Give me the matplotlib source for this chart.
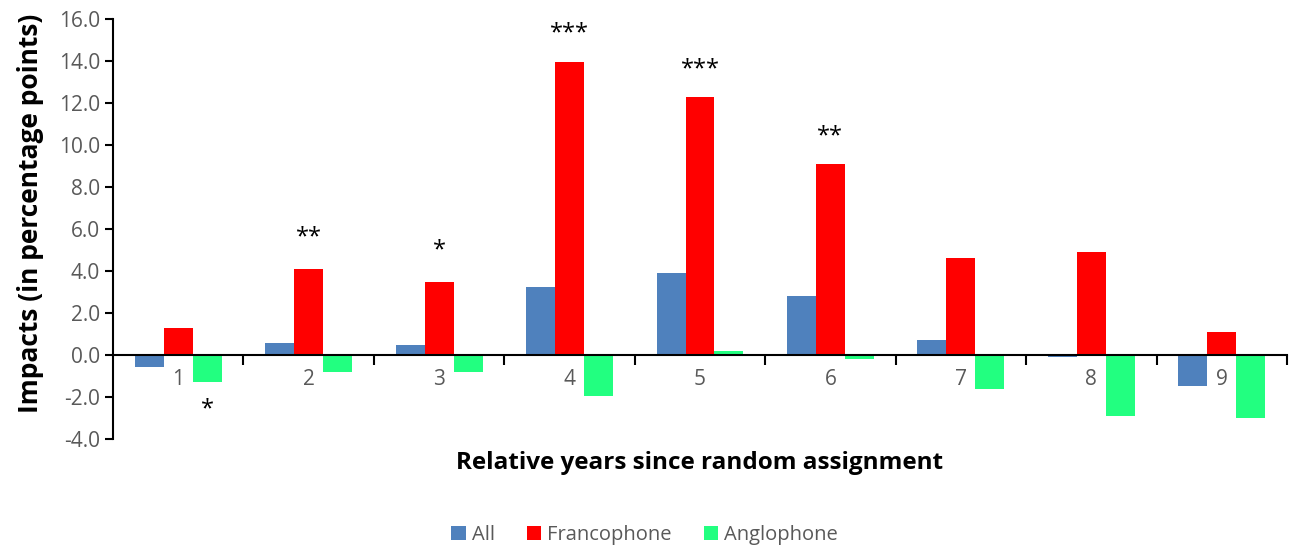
import numpy as np
import matplotlib.pyplot as plt

years = ["1", "2", "3", "4", "5", "6", "7", "8", "9"]
impact_all = [-0.59, 0.59, 0.46, 3.22, 3.89, 2.81, 0.71, -0.11, -1.46]
impact_franco = [1.27, 4.10, 3.48, 13.94, 12.27, 9.08, 4.63, 4.89, 1.10]
impact_anglo = [-1.27, -0.80, -0.80, -1.95, 0.19, -0.17, -1.62, -2.90, -3.00]

# significance stars: (year index, series offset, y position, text)
stars = [(0, 1, -2.6, "*"), (1, 0, 5.6, "**"), (2, 0, 5.0, "*"),
         (3, 0, 15.3, "***"), (4, 0, 13.6, "***"), (5, 0, 10.4, "**")]

plt.rcParams['font.family'] = ['Open Sans', 'DejaVu Sans']
gray = '#595959'

fig = plt.figure(figsize=(12.89, 5.5), dpi=100)
ax = fig.add_axes([0.0877, 0.2018, 0.9107, 0.7637])

x = np.arange(len(years))
w = 0.222
ax.bar(x - w, impact_all, w, color='#4f81bd', label='All')
ax.bar(x, impact_franco, w, color='#ff0000', label='Francophone')
ax.bar(x + w, impact_anglo, w, color='#22ff80', label='Anglophone')

for i, off, y, s in stars:
    ax.text(x[i] + off * w, y, s, ha='center', va='center', fontsize=17, color='black')

ax.set_xlim(-0.5, len(years) - 0.5)
ax.set_ylim(-4, 16)
ax.set_yticks(np.arange(-4, 16.1, 2))
ax.set_yticklabels(['%.1f' % v for v in np.arange(-4, 16.1, 2)])

ax.set_xticks(x)
ax.set_xticklabels(years)
ax.set_xticks(np.arange(0.5, len(years), 1), minor=True)
ax.tick_params(axis='x', which='major', length=0, pad=10, labelsize=15, labelcolor=gray)
ax.tick_params(axis='x', which='minor', length=7, width=1.5, direction='out')
ax.tick_params(axis='y', length=6, width=1.5, labelsize=15, labelcolor=gray)

ax.spines['top'].set_visible(False)
ax.spines['right'].set_visible(False)
ax.spines['bottom'].set_position(('data', 0))
ax.spines['bottom'].set_linewidth(1.5)
ax.spines['left'].set_linewidth(1.5)

ax.set_ylabel('Impacts (in percentage points)', fontsize=19, fontweight='bold')
ax.yaxis.set_label_coords(-0.059, 0.536)
fig.text(0.543, 0.158, 'Relative years since random assignment', ha='center', va='center',
         fontsize=17.5, fontweight='bold')

fig.legend(loc='center', bbox_to_anchor=(0.5, 0.027), ncol=3, frameon=False,
           fontsize=14.5, labelcolor=gray, handlelength=0.7, handleheight=0.7,
           handletextpad=0.3, columnspacing=1.6)

fig.savefig('out.png', dpi=100)
